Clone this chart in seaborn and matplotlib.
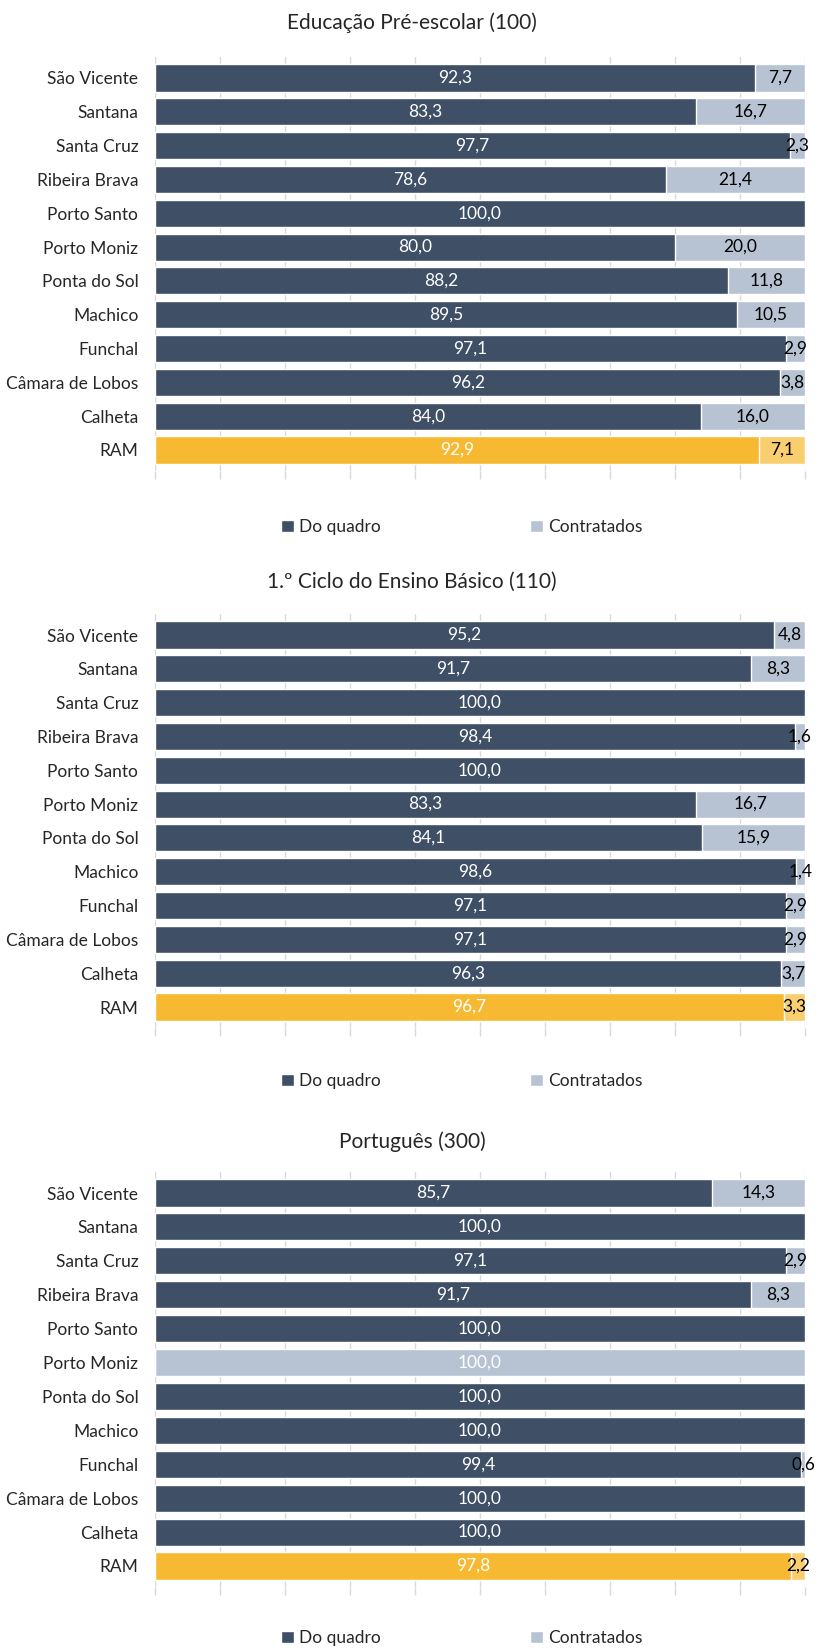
import numpy as np
import pandas as pd
import matplotlib
matplotlib.use("Agg")
import matplotlib.pyplot as plt
import seaborn as sns
from matplotlib.patches import Patch

sns.set_theme(style="white")
plt.rcParams['font.family'] = ['Lato', 'DejaVu Sans']

# ==================== 数据 ====================
categories = ["São Vicente", "Santana", "Santa Cruz", "Ribeira Brava", "Porto Santo",
              "Porto Moniz", "Ponta do Sol", "Machico", "Funchal", "Câmara de Lobos",
              "Calheta", "RAM"]

titles = ["Educação Pré-escolar (100)",
          "1.º Ciclo do Ensino Básico (110)",
          "Português (300)"]

quadro_pre = [92.3, 83.3, 97.7, 78.6, 100.0, 80.0, 88.2, 89.5, 97.1, 96.2, 84.0, 92.9]
contrat_pre = [7.7, 16.7, 2.3, 21.4, 0.0, 20.0, 11.8, 10.5, 2.9, 3.8, 16.0, 7.1]

quadro_1c = [95.2, 91.7, 100.0, 98.4, 100.0, 83.3, 84.1, 98.6, 97.1, 97.1, 96.3, 96.7]
contrat_1c = [4.8, 8.3, 0.0, 1.6, 0.0, 16.7, 15.9, 1.4, 2.9, 2.9, 3.7, 3.3]

quadro_pt = [85.7, 100.0, 97.1, 91.7, 100.0, 0.0, 100.0, 100.0, 99.4, 100.0, 100.0, 97.8]
contrat_pt = [14.3, 0.0, 2.9, 8.3, 0.0, 100.0, 0.0, 0.0, 0.6, 0.0, 0.0, 2.2]

series = [(quadro_pre, contrat_pre), (quadro_1c, contrat_1c), (quadro_pt, contrat_pt)]

# ==================== 样式 ====================
DARK = "#3E4F66"
LIGHT = "#B7C3D3"
ORANGE = "#F7B931"
ORANGE_LIGHT = "#F9CE6E"
GRID = "#D9D9D9"
FS = 12.5

W, H = 820, 1650
# 每个面板: (标题y, 第一根柱中心y, RAM柱中心y, 图例y) 像素
panels_px = [(23, 78, 450, 527), (582, 635, 1007, 1081), (1142, 1193, 1566, 1638)]
LEFT_PX, RIGHT_PX = 155, 805
PAD = 0.62

fig = plt.figure(figsize=(W / 100, H / 100), dpi=100)

for (title, (quadro, contrat), (ty, y0, y1, ly)) in zip(titles, series, panels_px):
    unit = (y1 - y0) / (len(categories) - 1)
    top_px = y0 - PAD * unit
    bot_px = y1 + PAD * unit
    ax = fig.add_axes([LEFT_PX / W, 1 - bot_px / H, (RIGHT_PX - LEFT_PX) / W, (bot_px - top_px) / H])

    df = pd.DataFrame({"cat": categories, "quadro": quadro, "contrat": contrat})
    df["total"] = df["quadro"] + df["contrat"]

    light_pal = {c: (ORANGE_LIGHT if c == "RAM" else LIGHT) for c in categories}
    dark_pal = {c: (ORANGE if c == "RAM" else DARK) for c in categories}

    sns.barplot(data=df, y="cat", x="total", hue="cat", palette=light_pal, order=categories,
                width=0.8, legend=False, saturation=1, ax=ax, zorder=2)
    sns.barplot(data=df, y="cat", x="quadro", hue="cat", palette=dark_pal, order=categories,
                width=0.8, legend=False, saturation=1, ax=ax, zorder=3)

    # 数据标签
    for i, (q, c) in enumerate(zip(quadro, contrat)):
        if q > 0:
            ax.text(q / 2, i, f"{q:.1f}".replace(".", ","), ha="center", va="center",
                    color="white", fontsize=FS, zorder=5)
        if c > 0:
            ax.text(q + c / 2, i, f"{c:.1f}".replace(".", ","), ha="center", va="center",
                    color="white" if c >= 100 else "black", fontsize=FS, zorder=5)

    ax.set_xlim(0, 100)
    ax.set_ylim(len(categories) - 1 + PAD, -PAD)
    ax.set_xticks(np.arange(0, 101, 10))
    ax.xaxis.grid(True, color=GRID, linewidth=1, zorder=0)
    ax.set_axisbelow(True)
    ax.tick_params(axis="x", bottom=True, length=6, color=GRID, labelbottom=False, width=1)
    ax.tick_params(axis="y", left=False, labelsize=FS, pad=6)
    for s in ax.spines.values():
        s.set_visible(False)
    ax.set_xlabel("")
    ax.set_ylabel("")

    fig.text(412 / W, 1 - ty / H, title, ha="center", va="center", fontsize=15)

    handles = [Patch(facecolor=DARK, label="Do quadro"), Patch(facecolor=LIGHT, label="Contratados")]
    fig.legend(handles=handles, loc="center", bbox_to_anchor=(0.563, 1 - ly / H), ncol=2,
               frameon=False, fontsize=FS, handlelength=0.75, handleheight=0.75,
               handletextpad=0.3, columnspacing=8.6)

fig.savefig("out.png", dpi=100)
